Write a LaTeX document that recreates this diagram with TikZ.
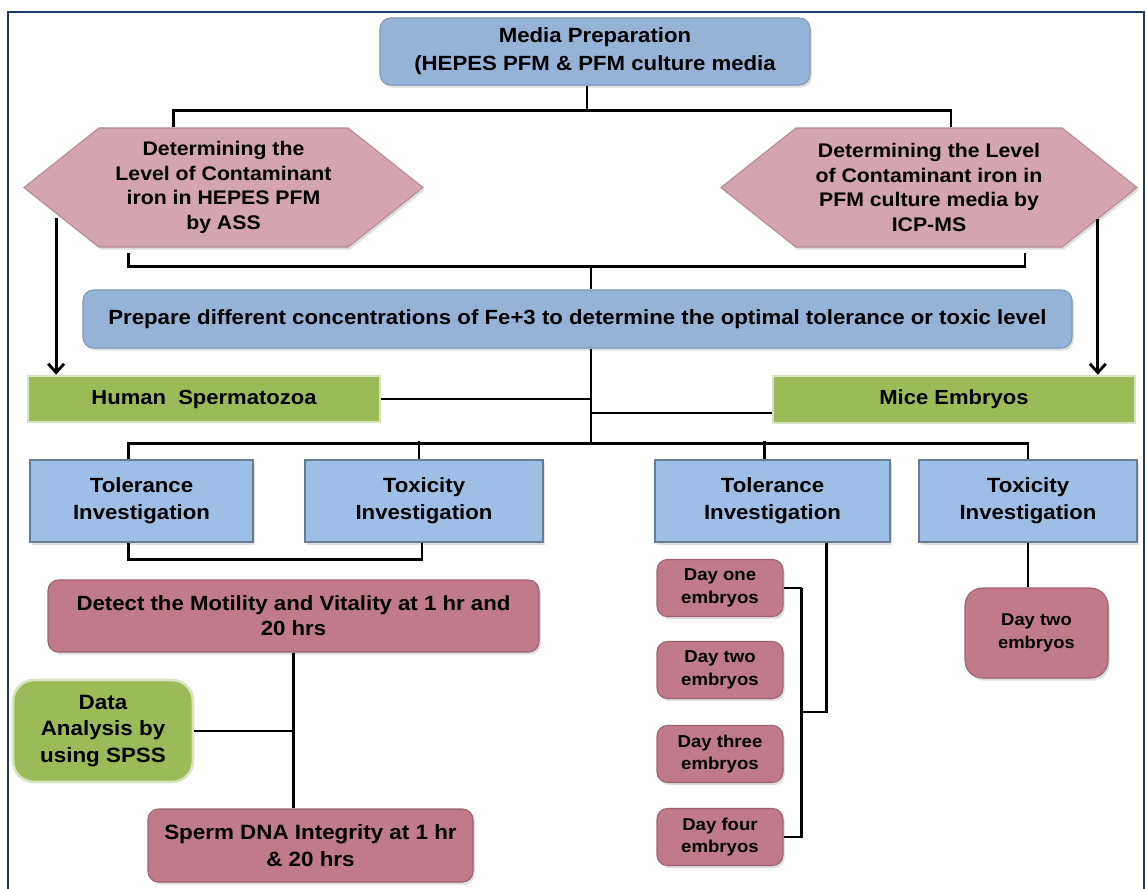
\documentclass[tikz,border=0pt]{standalone}
\usepackage{fontspec}
\setmainfont{Liberation Sans}[FakeStretch=1.08]
\usetikzlibrary{arrows.meta,positioning,shapes.symbols,shadows,calc}
\definecolor{prep}{HTML}{95B3D7}
\definecolor{inv}{HTML}{9EBFE5}
\definecolor{hexpink}{HTML}{D4A4AF}
\definecolor{rose}{HTML}{C07A89}
\definecolor{leaf}{HTML}{9BBB59}
\definecolor{frame}{HTML}{1F3A68}

\begin{document}
\begin{tikzpicture}[x=0.02cm, y=-0.02cm,
  shade/.style={drop shadow={opacity=0.25, shadow xshift=1pt, shadow yshift=-1.5pt}},
  bluebox/.style={rounded corners=6pt, fill=prep, draw=prep!85!black, line width=0.6pt,
                  align=center, font=\bfseries, shade},
  invbox/.style={fill=inv, draw=inv!65!black, line width=0.6pt, align=center,
                 minimum width=#1, minimum height=82*0.02cm,
                 font=\fontsize{11.7}{15.3}\selectfont\bfseries, shade},
  hexbox/.style={signal, signal to=west and east, signal pointer angle=77,
                 fill=hexpink, draw=hexpink!85!black, line width=0.6pt, align=center,
                 font=\fontsize{11.2}{13.9}\selectfont\bfseries, shade},
  rosebox/.style={rounded corners=6pt, fill=rose, draw=rose!80!black, line width=0.6pt,
                  align=center, font=\bfseries, shade},
  daybox/.style={rosebox, minimum width=126*0.02cm, minimum height=57*0.02cm,
                 font=\fontsize{9.8}{13}\selectfont\bfseries},
  leafbox/.style={fill=leaf, draw=leaf!40!white, line width=1.5pt, align=center,
                  font=\bfseries},
  conn/.style={line width=1.6pt},
  arr/.style={conn, -{Straight Barb[length=5pt, width=9pt]}}
]
  \useasboundingbox (0,0) rectangle (1147,889);
  \draw[frame, line width=1.2pt] (8,889) -- (8,12) -- (1144,12) -- (1144,889);

  % Media and contaminant checks
  \node[bluebox, minimum width=430*0.02cm, minimum height=67*0.02cm,
        font=\fontsize{11.7}{15.9}\selectfont\bfseries] (media) at (595,51.5)
        {Media Preparation\\(HEPES PFM \& PFM culture media};
  \node[hexbox, minimum width=399*0.02cm, minimum height=119*0.02cm] (lhex) at (223.5,187.5)
        {Determining the\\Level of Contaminant\\iron in HEPES PFM\\by ASS};
  \node[hexbox, minimum width=416*0.02cm, minimum height=119*0.02cm] (rhex) at (929,187.5)
        {Determining the Level\\of Contaminant iron in\\PFM culture media by\\ICP-MS};

  \draw[conn] ($(media.south)+(-8,0)$) -- ++(0,25) coordinate (split);
  \draw[conn] ($(lhex.north)+(-50,0)$) |- (split) -| ($(rhex.north)+(22,0)$);

  % Fe+3 concentrations
  \node[bluebox, minimum width=989*0.02cm, minimum height=58*0.02cm,
        font=\fontsize{11.7}{14}\selectfont\bfseries] (prep) at (577.5,319)
        {Prepare different concentrations of Fe+3 to determine the optimal tolerance or toxic level};
  \coordinate (lfoot) at ($(lhex.south)+(-95,5)$);
  \coordinate (rfoot) at ($(rhex.south)+(96,5)$);
  \draw[conn] (lfoot) -- ++(0,14) -| (rfoot);
  \draw[conn] ($(prep.north)+(13.5,0)$) -- ++(0,-24);

  % Models
  \node[leafbox, minimum width=352*0.02cm, minimum height=46*0.02cm,
        font=\fontsize{11.6}{14}\selectfont\bfseries] (human) at (204,399) {Human\ \ Spermatozoa};
  \node[leafbox, minimum width=362*0.02cm, minimum height=47*0.02cm,
        font=\fontsize{11.6}{14}\selectfont\bfseries] (mice) at (954,399.5) {Mice Embryos};
  \coordinate (larr) at ($(lhex.west)+(33,30)$);
  \coordinate (rarr) at ($(rhex.east)+(-40,31)$);
  \draw[arr] (larr) -- (larr |- human.north);
  \draw[arr] (rarr) -- (rarr |- mice.north);

  \draw[conn] ($(prep.south)+(13.5,0)$) -- ++(0,95) coordinate (hub);
  \coordinate (mjoin) at ($(mice.west)+(0,13.5)$);
  \draw[conn] (human.east) -- (human.east -| hub);
  \draw[conn] (mjoin) -- (mjoin -| hub);

  % Investigations
  \node[invbox=223*0.02cm] (htol) at (141.5,501) {Tolerance\\Investigation};
  \node[invbox=238*0.02cm] (htox) at (424,501) {Toxicity\\Investigation};
  \node[invbox=235*0.02cm] (mtol) at (772.5,501) {Tolerance\\Investigation};
  \node[invbox=218*0.02cm] (mtox) at (1028,501) {Toxicity\\Investigation};
  \draw[conn] ($(htol.north)+(-13,0)$) |- (hub) -| (mtox.north);
  \draw[conn] ($(htox.north)+(-5,0)$) -- ++(0,-18);
  \draw[conn] ($(mtol.north)+(-8,0)$) -- ++(0,-18);
  \draw[conn] ($(htol.south)+(-13,0)$) -- ++(0,17) -| ($(htox.south)+(-2,0)$);

  % Spermatozoa tests
  \node[rosebox, minimum width=491*0.02cm, minimum height=72*0.02cm,
        font=\fontsize{11.7}{14.2}\selectfont\bfseries] (detect) at (293.5,616)
        {Detect the Motility and Vitality at 1 hr and\\20 hrs};
  \node[leafbox, rounded corners=12pt, minimum width=180*0.02cm, minimum height=102*0.02cm,
        font=\fontsize{11.8}{15.1}\selectfont\bfseries] (data) at (103,731)
        {Data\\Analysis by\\using SPSS};
  \node[rosebox, minimum width=325*0.02cm, minimum height=73*0.02cm,
        font=\fontsize{11.8}{14.9}\selectfont\bfseries] (dna) at (310.5,845.5)
        {Sperm DNA Integrity at 1 hr\\\& 20 hrs};
  \draw[conn] (detect.south) -- (detect.south |- dna.north);
  \draw[conn] (data.east) -- (data.east -| detect.south);

  % Embryo days
  \node[daybox] (d1) at (720,588) {Day one\\embryos};
  \node[daybox] (d2) at (720,670) {Day two\\embryos};
  \node[daybox] (d3) at (720,754) {Day three\\embryos};
  \node[daybox] (d4) at (720,837) {Day four\\embryos};
  \node[rosebox, rounded corners=10pt, minimum width=143*0.02cm, minimum height=90*0.02cm,
        font=\fontsize{9.7}{13}\selectfont\bfseries] (t2) at (1036.5,633) {Day two\\embryos};

  \draw[conn] (d1.east) -- ++(18,0) coordinate (dtop);
  \draw[conn] (d4.east) -- ++(18,0) -- (dtop);
  \draw[conn] ($(mtol.south)+(54,0)$) |- ($(d2.east)!0.5!(d3.east)+(18,0)$);
  \draw[conn] (mtox.south) -- (mtox.south |- t2.north);
\end{tikzpicture}
\end{document}
